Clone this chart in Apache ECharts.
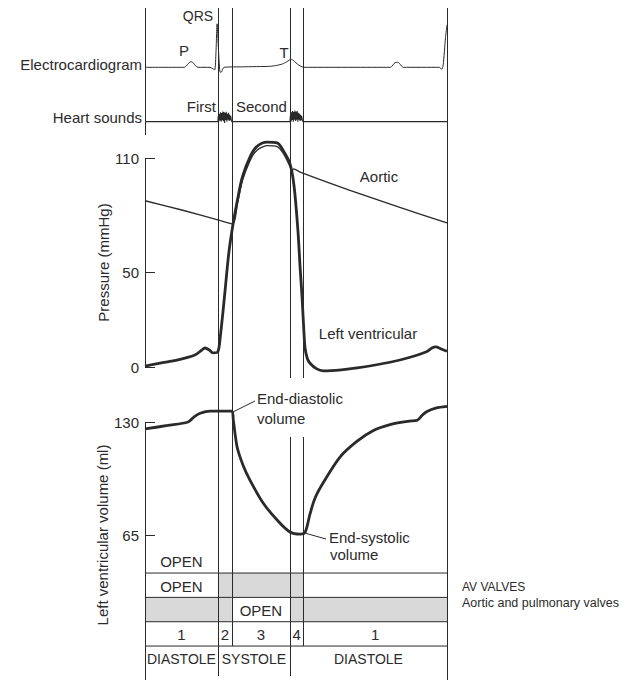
<!DOCTYPE html>
<html><head><meta charset="utf-8">
<script src="https://cdn.jsdelivr.net/npm/echarts@6/dist/echarts.min.js"></script>
<style>html,body{margin:0;padding:0;background:#fff}#c{width:629px;height:680px}</style>
</head><body><div id="c"></div>
<script>
// ---------- DATA (time in ms over one 800 ms cardiac cycle) ----------
const cycle = [0, 800];
// QRS / AV-valve closure, aortic opening, aortic closure, AV-valve opening
const eventTimes = [193, 230, 384, 419];

// Electrocardiogram (mV)
const ecg = [[0,0],[104,0],[110,0.03],[115,0.08],[120,0.11],[124,0.11],[129,0.08],[134,0.03],[140,0],
  [172,0],[180,-0.03],[185,-0.05],[188,0.3],[191,0.88],[195,0.3],[199,-0.1],[203,-0.09],[209,0],
  [260,0.01],[330,0.02],[350,0.04],[365,0.07],[375,0.11],[383,0.15],[388,0.16],[393,0.14],[400,0.09],
  [408,0.04],[416,0.01],[424,0],[650,0],[655,0.03],[660,0.08],[665,0.1],[669,0.1],[674,0.08],[679,0.03],
  [684,0],[780,0],[786,-0.04],[790,0.05],[796,0.6],[800,0.86]];

// Heart sounds (phonocardiogram, arbitrary units)
const heartSounds = [[0,0],[193,0],[194,0.2],[196,0.02],[197,0.3],[199,0.05],[200,0.35],[202,0],[203,0.32],
  [205,0.06],[206,0.38],[208,0.02],[209,0.36],[211,-0.05],[212,0.33],[214,0.06],[215,0.37],[217,0],
  [218,0.3],[220,0.07],[221,0.33],[223,0.03],[224,0.27],[226,0.06],[227,0.22],[229,0.03],[230,0],
  [384,0],[385,0.22],[387,0],[388,0.35],[390,0.06],[391,0.4],[393,0],[394,0.36],[396,0.07],[397,0.42],
  [399,0.03],[400,0.37],[402,0.07],[403,0.4],[405,0],[406,0.33],[408,0.07],[409,0.3],[411,0.03],
  [412,0.26],[414,0.06],[415,0.22],[417,0.03],[419,0],[800,0]];

// Pressures (mmHg)
const aorticPressure = [[0,87.5],[100,82.5],[200,77],[233,75.3],[245,86],[258,98],[278,108.5],[296,114],
  [323,116.5],[350,116],[366,112.5],[384,105.5],[389,103],[394,104.3],[411,102.6],[543,93],[675,84],[800,75.8]];
const lvPressure = [[0,0.5],[40,2],[87,3.7],[132,6.3],[148,8.5],[159,10],[170,9],[180,7.4],[193,8],
  [200,17],[206,28],[212,40],[222,60],[233,75],[245,88],[258,100],[278,110.5],[296,116],[323,118.4],
  [350,118],[366,114],[384,107],[395,95],[405,72],[411,52],[416,37],[420,22],[424,10],[430,4.5],[437,2],
  [455,-1],[472,-2],[520,-1.5],[562,-0.5],[649,2.5],[700,5],[747,8.2],[760,10],[770,10.6],[785,9.5],[800,8.3]];

// Left ventricular volume (ml)
const lvVolume = [[0,126],[60,128],[114,130],[130,133],[146,135],[172,136.3],[230,136.3],[234,131],
  [244,115.6],[260,105],[278,96.6],[313,83.4],[350,73.6],[384,66.7],[411,65.5],[424,66.5],[437,77],
  [450,86],[472,95],[517,110],[562,119],[604,125],[649,128.5],[700,130.5],[721,131],[735,134],
  [747,136],[770,138],[800,139]];

const pressureTicks = [0, 50, 110];
const volumeTicks = [65, 130];

// Valve / phase table: [from, to, state, text]
const extraRow = [[0,193,'open','OPEN']];
const avValves = [[0,193,'open','OPEN'],[193,419,'closed',''],[419,800,'open','']];
const semilunarValves = [[0,230,'closed',''],[230,384,'open','OPEN'],[384,800,'closed','']];
const phases = [[0,193,'','1'],[193,230,'','2'],[230,384,'','3'],[384,419,'','4'],[419,800,'','1']];
const periods = [[0,193,'','DIASTOLE'],[193,384,'','SYSTOLE'],[384,800,'','DIASTOLE']];

// ---------- LAYOUT ----------
const FONT = '"Liberation Sans", Arial, Helvetica, sans-serif';
const TXT = '#2b2b2b', LINE = '#2a2a2a';
const L = 145, W = 302;
const grids = [
  {left:L, width:W, top:8, height:87},        // 0 ECG
  {left:L, width:W, top:95, height:40},       // 1 heart sounds
  {left:L, width:W, top:158, height:209},     // 2 pressure
  {left:L, width:W, top:422, height:226},     // 3 volume
  {left:L, width:W, top:548.7, height:121.7}, // 4 table
  {left:L, width:W, top:8, height:672}        // 5 frame
];
// vertical pixel extents of each rule: [cycle start, events..., cycle end]
const RULE_EXTENTS = [
  [[8,135],[158,367],[422,680]],
  [[8,676]],
  [[8,646]],
  [[8,378],[437,676]],
  [[8,378],[437,646]],
  [[8,680]]
];
const rules = [cycle[0], ...eventTimes, cycle[1]];

const tableRows = [extraRow, avValves, semilunarValves, phases, periods];
const tableCells = [];
tableRows.forEach((row, r) => row.forEach(c => tableCells.push({from:c[0], to:c[1], row:r, state:c[2], text:c[3]})));

const xAxes = grids.map((g, i) => ({gridIndex:i, type:'value', min:cycle[0], max:cycle[1], show:false}));
const hidY = (i, min, max) => ({gridIndex:i, type:'value', min, max, show:false});
const axisCommon = {
  axisLine:{show:false}, splitLine:{show:false},
  nameLocation:'middle', nameRotate:90,
  nameTextStyle:{fontSize:15, color:TXT, fontFamily:FONT}
};
const yAxes = [
  hidY(0, -0.56, 1.2),
  hidY(1, -0.5, 1),
  Object.assign({gridIndex:2, type:'value', min:0, max:110, name:'Pressure (mmHg)', nameGap:29,
    axisTick:{show:true, inside:true, length:10, customValues:pressureTicks, lineStyle:{color:LINE}},
    axisLabel:{customValues:pressureTicks, margin:6, fontSize:15, color:TXT, fontFamily:FONT}}, axisCommon),
  Object.assign({gridIndex:3, type:'value', min:0, max:130, name:'Left ventricular volume (ml)', nameGap:27,
    axisTick:{show:true, inside:true, length:10, customValues:volumeTicks, lineStyle:{color:LINE}},
    axisLabel:{customValues:volumeTicks, margin:6, fontSize:15, color:TXT, fontFamily:FONT}}, axisCommon),
  {gridIndex:4, type:'category', data:['extra','av','semilunar','phase','period'], inverse:true, show:false},
  hidY(5, 0, 1)
];

const lineSeries = (name, i, data, width, smooth) => ({
  name, type:'line', xAxisIndex:i, yAxisIndex:i, data, showSymbol:false, clip:false, smooth,
  lineStyle:{color:LINE, width}, z:3, animation:false
});

const option = {
  animation:false,
  backgroundColor:'#fff',
  grid: grids,
  xAxis: xAxes,
  yAxis: yAxes,
  series: [
    lineSeries('ECG', 0, ecg, 1, 0.2),
    lineSeries('Heart sounds', 1, heartSounds, 1.1, false),
    lineSeries('Aortic', 2, aorticPressure, 1.3, 0.25),
    lineSeries('Left ventricular', 2, lvPressure, 2.8, 0.3),
    lineSeries('LV volume', 3, lvVolume, 2.8, 0.3),
    {
      type:'custom', xAxisIndex:4, yAxisIndex:4, z:2,
      data: tableCells.map(c => [c.from, c.to, c.row]),
      renderItem: (params, api) => {
        const c = tableCells[params.dataIndex];
        const p0 = api.coord([c.from, c.row]);
        const p1 = api.coord([c.to, c.row]);
        const h = api.size([0, 1])[1];
        const top = p0[1] - h / 2;
        const children = [];
        if (c.state === 'closed') {
          children.push({type:'rect', shape:{x:p0[0], y:top, width:p1[0]-p0[0], height:h},
            style:{fill:'#d9d9d9'}});
        }
        if (c.row > 0) {
          children.push({type:'line', shape:{x1:p0[0], y1:top, x2:p1[0], y2:top},
            style:{stroke:LINE, lineWidth:1}});
        }
        if (c.text) {
          const small = c.text.length > 4;
          children.push({type:'text', style:{text:c.text, x:(p0[0]+p1[0])/2, y:p0[1]+1,
            fill:TXT, font:(small ? '14px ' : '15px ') + FONT,
            textAlign:'center', textVerticalAlign:'middle', align:'center', verticalAlign:'middle'}});
        }
        return {type:'group', children};
      }
    },
    {
      type:'custom', xAxisIndex:5, yAxisIndex:5, z:4,
      data: rules.map(t => [t, 0]),
      renderItem: (params, api) => {
        const x = Math.round(api.coord([api.value(0), 0])[0]) + 0.5;
        return {type:'group', children: RULE_EXTENTS[params.dataIndex].map(([y0, y1]) => ({
          type:'line', shape:{x1:x, y1:y0, x2:x, y2:y1}, style:{stroke:LINE, lineWidth:1}}))};
      }
    }
  ]
};

const chart = echarts.init(document.getElementById('c'), null, {renderer:'svg', width:629, height:680});
chart.setOption(option);

// ---------- annotations ----------
const T = (text, x, y, size, align, vAlign) => ({type:'text', silent:true, z:10, style:{
  text, x, y, fill:TXT, font:size + 'px ' + FONT,
  textAlign:align || 'left', textVerticalAlign:vAlign || 'middle', align:align || 'left', verticalAlign:vAlign || 'middle'}});

const nearest = (arr, t) => arr.reduce((a, b) => Math.abs(b[0]-t) < Math.abs(a[0]-t) ? b : a);
const edvPx = chart.convertToPixel({gridIndex:3}, nearest(lvVolume, eventTimes[1]));
const esvPx = chart.convertToPixel({gridIndex:3}, nearest(lvVolume, eventTimes[3]));

chart.setOption({graphic: [
  T('Electrocardiogram', 142, 64, 15, 'right'),
  T('Heart sounds', 142, 117, 15, 'right'),
  T('QRS', 198, 16, 14, 'center'),
  T('P', 184, 50, 15, 'center'),
  T('T', 284, 52, 15, 'center'),
  T('First', 216, 106, 15, 'right'),
  T('Second', 236, 106, 15, 'left'),
  T('Aortic', 379, 176, 15, 'center'),
  T('Left ventricular', 368, 333, 15, 'center'),
  T('End-diastolic', 257, 398, 15, 'left'),
  T('volume', 257, 418, 15, 'left'),
  T('End-systolic', 329, 537, 15, 'left'),
  T('volume', 330, 554, 15, 'left'),
  T('AV VALVES', 462, 587, 12, 'left'),
  T('Aortic and pulmonary valves', 462, 603, 12.5, 'left'),
  {type:'line', silent:true, z:10, shape:{x1:edvPx[0]+1, y1:edvPx[1]+1, x2:255, y2:401}, style:{stroke:LINE, lineWidth:1}},
  {type:'line', silent:true, z:10, shape:{x1:esvPx[0]+1, y1:esvPx[1]+1, x2:326, y2:539}, style:{stroke:LINE, lineWidth:1}}
]});
</script>
</body></html>
